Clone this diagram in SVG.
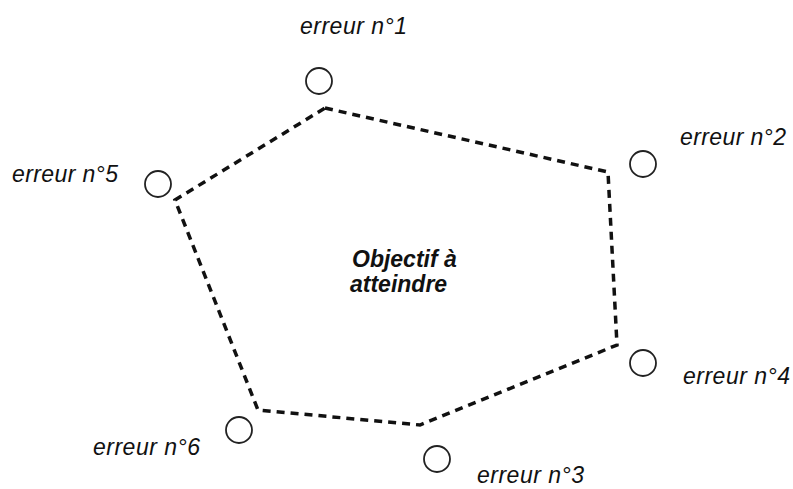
<svg xmlns="http://www.w3.org/2000/svg" width="793" height="489" viewBox="0 0 793 489">
<style>
.lbl{font-family:"Liberation Sans",Arial,sans-serif;font-style:italic;font-size:23px;fill:#111}
.ctr{font-family:"Liberation Sans",Arial,sans-serif;font-style:italic;font-weight:bold;font-size:23px;fill:#111}
.pt{fill:#fff;stroke:#222;stroke-width:1.8}
.edge{fill:none;stroke:#111;stroke-width:3.5;stroke-dasharray:8 6}
</style>
<rect width="793" height="489" fill="#fff"/>
<g id="connectors">
<polygon class="edge" points="325,108 608,172 617,345 420,425 258,410 175,200"/>
</g>
<g id="n1"><circle class="pt" cx="319" cy="81" r="13"/><text class="lbl" x="300" y="34" textLength="107" lengthAdjust="spacing">erreur n°1</text></g>
<g id="n2"><circle class="pt" cx="643" cy="164" r="13"/><text class="lbl" x="680" y="145" textLength="106" lengthAdjust="spacing">erreur n°2</text></g>
<g id="n3"><circle class="pt" cx="437" cy="459" r="13"/><text class="lbl" x="477" y="483" textLength="107" lengthAdjust="spacing">erreur n°3</text></g>
<g id="n4"><circle class="pt" cx="643" cy="363" r="13"/><text class="lbl" x="683" y="384" textLength="107" lengthAdjust="spacing">erreur n°4</text></g>
<g id="n5"><circle class="pt" cx="158" cy="184" r="13"/><text class="lbl" x="12" y="182" textLength="106" lengthAdjust="spacing">erreur n°5</text></g>
<g id="n6"><circle class="pt" cx="239" cy="430" r="13"/><text class="lbl" x="93" y="455" textLength="107" lengthAdjust="spacing">erreur n°6</text></g>
<g id="center"><text class="ctr" x="352" y="267">Objectif à</text><text class="ctr" x="350" y="292">atteindre</text></g>
</svg>
